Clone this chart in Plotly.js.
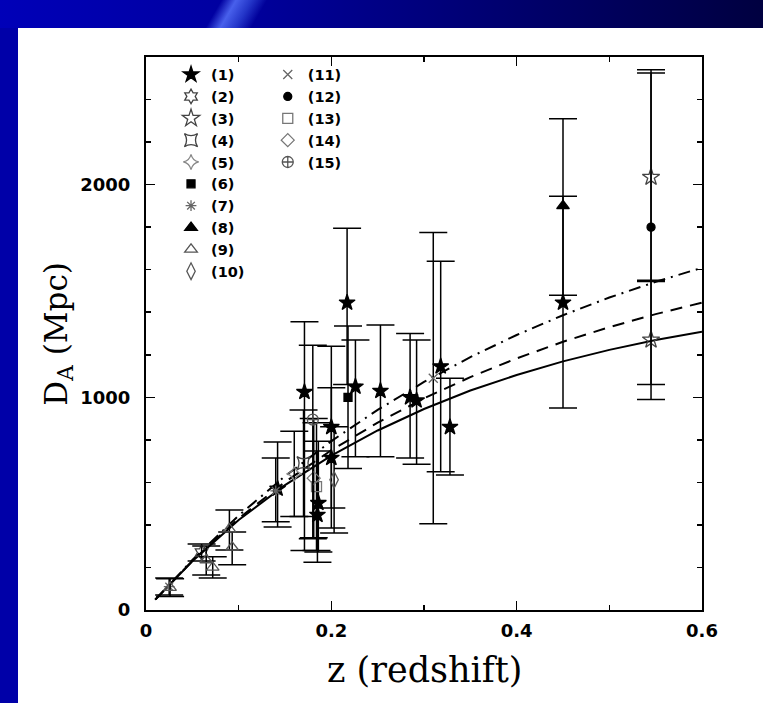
<!DOCTYPE html>
<html>
<head>
<meta charset="utf-8">
<script src="https://cdn.plot.ly/plotly-3.0.1.min.js"></script>
<style>
html,body{margin:0;padding:0;background:#ffffff;width:763px;height:703px;overflow:hidden;position:relative;}
#leftbar{position:absolute;left:0;top:0;width:18px;height:703px;background:#0000a8;}
#topbar{position:absolute;left:0;top:0;width:763px;height:28px;
 background:linear-gradient(90deg,#0000b8 0%,#0000a0 30%,#000070 65%,#000040 100%);}
#streak{position:absolute;left:200px;top:0;width:70px;height:28px;
 background:linear-gradient(120deg,rgba(0,0,0,0) 25%,rgba(90,120,255,0.8) 42%,rgba(60,90,230,0.6) 60%,rgba(0,0,0,0) 78%);}
#chart{position:absolute;left:0;top:0;width:763px;height:703px;}
</style>
</head>
<body>
<div id="leftbar"></div>
<div id="topbar"></div>
<div id="streak"></div>
<div id="chart"></div>
<script>
// ---- data ----
// series (1) filled star
const s1_z  = [0.142, 0.171, 0.217, 0.226, 0.253, 0.200, 0.200, 0.186, 0.185, 0.285, 0.292, 0.318, 0.328, 0.450];
const s1_D  = [570, 1025, 1445, 1050, 1030, 860, 715, 503, 447, 1000, 985, 1145, 860, 1445];
const s1_ep = [220, 330, 350, 220, 310, 380, 330, 290, 300, 300, 285, 495, 230, 500];
const s1_em = [180, 745, 385, 330, 310, 380, 330, 230, 222, 285, 300, 495, 225, 495];
// series (2)
const s2_z = [0.060]; const s2_D = [270]; const s2_ep = [40]; const s2_em = [40];
// series (3) open star
const s3_z = [0.545, 0.545]; const s3_D = [2035, 1270]; const s3_ep = [490, 280]; const s3_em = [490, 280];
// series (4)
const s4_z = [0.170]; const s4_D = [690]; const s4_ep = [250]; const s4_em = [250];
// series (5)
const s5_z = [0.160]; const s5_D = [640]; const s5_ep = [200]; const s5_em = [200];
// series (6) filled square
const s6_z = [0.218]; const s6_D = [1000]; const s6_ep = [335]; const s6_em = [335];
// series (7) asterisk
const s7_z = [0.140, 0.025]; const s7_D = [560, 110]; const s7_ep = [155, 40]; const s7_em = [145, 40];
// series (8) filled triangle
const s8_z = [0.450]; const s8_D = [1900]; const s8_ep = [410]; const s8_em = [420];
// series (9) open triangle
const s9_z = [0.026, 0.065, 0.072, 0.090, 0.093];
const s9_D = [105, 235, 200, 380, 295];
const s9_ep = [42, 66, 50, 90, 72];
const s9_em = [42, 70, 50, 98, 82];
// series (10)
const s10_z = [0.203]; const s10_D = [612]; const s10_ep = [250]; const s10_em = [250];
// series (11) cross
const s11_z = [0.310]; const s11_D = [1090]; const s11_ep = [685]; const s11_em = [685];
// series (12) filled circle
const s12_z = [0.545]; const s12_D = [1800]; const s12_ep = [740]; const s12_em = [740];
// series (13) open square
const s13_z = [0.184]; const s13_D = [580]; const s13_ep = [300]; const s13_em = [300];
// series (14) open diamond
const s14_z = [0.181]; const s14_D = [620]; const s14_ep = [280]; const s14_em = [280];
// series (15) circle-cross
const s15_z = [0.180]; const s15_D = [895]; const s15_ep = [350]; const s15_em = [560];

// model curves
const curve_z      = [0.01, 0.05, 0.10, 0.15, 0.20, 0.25, 0.30, 0.35, 0.40, 0.45, 0.50, 0.55, 0.60];
const curve_solid  = [49, 229, 423, 587, 726, 844, 945, 1032, 1105, 1169, 1223, 1269, 1308];
const curve_dash   = [49, 231, 430, 602, 751, 881, 995, 1095, 1183, 1261, 1330, 1391, 1445];
const curve_dashdot= [49, 235, 444, 629, 794, 941, 1072, 1189, 1293, 1386, 1469, 1543, 1609];

const legendLabels = ['(1)','(2)','(3)','(4)','(5)','(6)','(7)','(8)','(9)','(10)','(11)','(12)','(13)','(14)','(15)'];
const xTickVals = [0, 0.2, 0.4, 0.6];
const xTickText = ['0', '0.2', '0.4', '0.6'];
const yTickVals = [0, 1000, 2000];
const yTickText = ['0', '1000', '2000'];

// ---- build traces ----
const series = [
  [s1_z, s1_D, s1_ep, s1_em, 'star', 12, '#000'],
  [s2_z, s2_D, s2_ep, s2_em, 'hexagram-open', 11, '#444'],
  [s3_z, s3_D, s3_ep, s3_em, 'star-open', 13, '#444'],
  [s4_z, s4_D, s4_ep, s4_em, 'star-square-open', 12, '#444'],
  [s5_z, s5_D, s5_ep, s5_em, 'star-diamond-open', 11, '#888'],
  [s6_z, s6_D, s6_ep, s6_em, 'square', 8, '#000'],
  [s7_z, s7_D, s7_ep, s7_em, 'asterisk-open', 9, '#666'],
  [s8_z, s8_D, s8_ep, s8_em, 'triangle-up', 11, '#000'],
  [s9_z, s9_D, s9_ep, s9_em, 'triangle-up-open', 11, '#555'],
  [s10_z, s10_D, s10_ep, s10_em, 'diamond-tall-open', 12, '#555'],
  [s11_z, s11_D, s11_ep, s11_em, 'x-thin-open', 9, '#666'],
  [s12_z, s12_D, s12_ep, s12_em, 'circle', 8, '#000'],
  [s13_z, s13_D, s13_ep, s13_em, 'square-open', 10, '#777'],
  [s14_z, s14_D, s14_ep, s14_em, 'diamond-open', 10, '#777'],
  [s15_z, s15_D, s15_ep, s15_em, 'circle-cross-open', 11, '#555']
];

const traces = [];
traces.push({x: curve_z, y: curve_solid, mode:'lines', line:{color:'#000', width:2}, showlegend:false, hoverinfo:'skip'});
traces.push({x: curve_z, y: curve_dash, mode:'lines', line:{color:'#000', width:2, dash:'12px,8px'}, showlegend:false, hoverinfo:'skip'});
traces.push({x: curve_z, y: curve_dashdot, mode:'lines', line:{color:'#000', width:2, dash:'12px,6px,2px,6px'}, showlegend:false, hoverinfo:'skip'});

series.forEach((s, i) => {
  traces.push({
    x: s[0], y: s[1], mode: 'markers', name: legendLabels[i],
    legend: i < 10 ? 'legend' : 'legend2',
    marker: {symbol: s[4], size: s[5], color: s[6], line: {color: s[6], width: 1.3}},
    error_y: {type:'data', symmetric:false, array: s[2], arrayminus: s[3], color:'#000', thickness:1.5, width:14}
  });
});

const tickFont = {family:'DejaVu Sans', size:18, color:'#000', weight:700};
const legendFont = {family:'DejaVu Sans', size:14.5, color:'#000', weight:700};

const layout = {
  width: 763, height: 703,
  margin: {l:146, r:61, t:57, b:93, pad:0},
  paper_bgcolor: 'rgba(0,0,0,0)',
  plot_bgcolor: '#ffffff',
  showlegend: true,
  xaxis: {
    range: [0, 0.6], tickmode:'array', tickvals: xTickVals, ticktext: xTickText,
    ticks:'inside', ticklen:9, tickwidth:1.5, tickcolor:'#000',
    minor: {dtick:0.1, tick0:0, ticks:'inside', ticklen:5, tickwidth:1.5, tickcolor:'#000'},
    showline:true, linewidth:2, linecolor:'#000', mirror:'ticks',
    showgrid:false, zeroline:false, tickfont: tickFont, ticklabelstandoff: 3
  },
  yaxis: {
    range: [0, 2600], tickmode:'array', tickvals: yTickVals, ticktext: yTickText,
    ticks:'inside', ticklen:9, tickwidth:1.5, tickcolor:'#000',
    minor: {dtick:200, tick0:0, ticks:'inside', ticklen:5, tickwidth:1.5, tickcolor:'#000'},
    showline:true, linewidth:2, linecolor:'#000', mirror:'ticks',
    showgrid:false, zeroline:false, tickfont: tickFont, ticklabelstandoff: 10
  },
  legend: {x:0.045, y:0.997, xanchor:'left', yanchor:'top', bgcolor:'rgba(0,0,0,0)', borderwidth:0,
           font: legendFont, itemwidth:30, tracegroupgap:0},
  legend2: {x:0.219, y:0.997, xanchor:'left', yanchor:'top', bgcolor:'rgba(0,0,0,0)', borderwidth:0,
           font: legendFont, itemwidth:30, tracegroupgap:0},
  annotations: [
    {text:'z (redshift)', xref:'paper', yref:'paper', x:0.5, y:-0.108, xanchor:'center', yanchor:'middle',
     showarrow:false, font:{family:'DejaVu Serif', size:35, color:'#000'}},
    {text:'D<sub>A</sub> (Mpc)', xref:'paper', yref:'paper', x:-0.158, y:0.5, xanchor:'center', yanchor:'middle',
     textangle:-90, showarrow:false, font:{family:'DejaVu Serif', size:31, color:'#000'}}
  ]
};

Plotly.newPlot('chart', traces, layout, {displayModeBar:false, staticPlot:true});
</script>
</body>
</html>
